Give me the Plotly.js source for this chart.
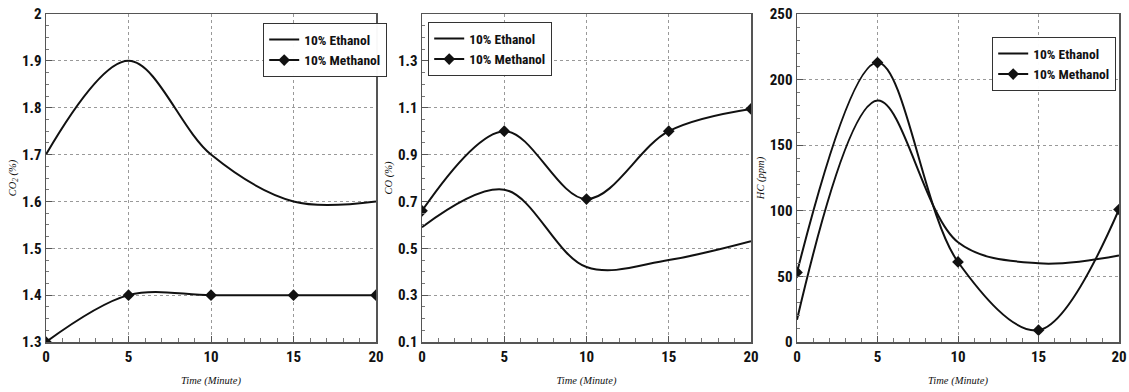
<!DOCTYPE html>
<html>
<head>
<meta charset="utf-8">
<script src="https://cdn.plot.ly/plotly-3.0.1.min.js"></script>
<style>html,body{margin:0;padding:0;background:#fff;}#chart{width:1129px;height:392px;}</style>
</head>
<body>
<div id="chart"></div>
<script>
const time = [0, 5, 10, 15, 20];
const co2Ethanol = [1.7, 1.9, 1.7, 1.6, 1.6];
const co2Methanol = [1.3, 1.4, 1.4, 1.4, 1.4];
const coEthanol = [0.59, 0.75, 0.42, 0.45, 0.53];
const coMethanol = [0.66, 1.0, 0.71, 1.0, 1.095];
const hcEthanol = [17, 184, 76, 60, 66];
const hcMethanol = [53, 213, 61, 9, 101];
const seriesNames = ['10% Ethanol', '10% Methanol'];
const xTickVals = [0, 5, 10, 15, 20];
const coTickVals = [0.1, 0.3, 0.5, 0.7, 0.9, 1.1, 1.3];
const xTitle = 'Time (Minute)';
const yTitles = ['CO<sub>2</sub> (%)', 'CO (%)', 'HC (ppm)'];

const narrow = 'Liberation Sans Narrow, Arial Narrow, Roboto Condensed, Roboto, sans-serif';
const tickFont = {family: narrow, size: 15, color: '#111', weight: 'bold'};
const titleFont = {family: 'Liberation Serif, serif', size: 10.5, color: '#111', style: 'italic'};

function ethTrace(y, i, legendName) {
  return {x: time, y: y, xaxis: 'x' + (i ? i + 1 : ''), yaxis: 'y' + (i ? i + 1 : ''),
    name: seriesNames[0], mode: 'lines', legend: legendName,
    line: {color: '#111', width: 2, shape: 'spline', smoothing: 1}};
}
function metTrace(y, i, legendName) {
  return {x: time, y: y, xaxis: 'x' + (i ? i + 1 : ''), yaxis: 'y' + (i ? i + 1 : ''),
    name: seriesNames[1], mode: 'lines+markers', legend: legendName,
    line: {color: '#111', width: 2, shape: 'spline', smoothing: 1},
    marker: {symbol: 'diamond', size: 9, color: '#111'}};
}

const data = [
  ethTrace(co2Ethanol, 0, 'legend'), metTrace(co2Methanol, 0, 'legend'),
  ethTrace(coEthanol, 1, 'legend2'), metTrace(coMethanol, 1, 'legend2'),
  ethTrace(hcEthanol, 2, 'legend3'), metTrace(hcMethanol, 2, 'legend3')
];

const yDom = [50 / 392, 378 / 392];
function xAxis(dom, anchor) {
  return {domain: dom, anchor: anchor, range: [0, 20], tickvals: xTickVals, tickfont: tickFont,
    ticklabeloverflow: 'allow',
    showline: true, mirror: true, linecolor: '#555', linewidth: 1.5,
    ticks: 'inside', ticklen: 6, tickcolor: '#555',
    minor: {dtick: 1, ticks: 'inside', ticklen: 4, tickcolor: '#777', showgrid: false},
    showgrid: true, gridcolor: '#999', griddash: 'dot', gridwidth: 1, zeroline: false,
    title: {text: xTitle, font: titleFont, standoff: 12}};
}
function yAxis(anchor, range, dtick, minorDtick, title) {
  return {domain: yDom, anchor: anchor, range: range, dtick: dtick, tick0: range[0], tickfont: tickFont,
    ticklabeloverflow: 'allow',
    showline: true, mirror: true, linecolor: '#555', linewidth: 1.5,
    ticks: 'inside', ticklen: 6, tickcolor: '#555',
    minor: {dtick: minorDtick, ticks: 'inside', ticklen: 3, tickcolor: '#777', showgrid: false},
    showgrid: true, gridcolor: '#999', griddash: 'dot', gridwidth: 1, zeroline: false,
    title: {text: title, font: titleFont, standoff: 3}};
}

const legendBase = {bgcolor: 'rgba(255,255,255,0.97)', bordercolor: '#333', borderwidth: 1.2,
  font: {family: narrow, size: 13.5, color: '#111', weight: 'bold'},
  xanchor: 'left', yanchor: 'top', itemwidth: 30, tracegroupgap: 0};

const layout = {
  width: 1129, height: 392,
  margin: {l: 0, r: 0, t: 0, b: 0},
  paper_bgcolor: '#fff', plot_bgcolor: '#fff',
  xaxis: xAxis([46 / 1129, 376 / 1129], 'y'),
  yaxis: yAxis('x', [1.3, 2.0], 0.1, 0.025, yTitles[0]),
  xaxis2: xAxis([422 / 1129, 751 / 1129], 'y2'),
  yaxis2: Object.assign(yAxis('x2', [0.1, 1.5], 0.2, 0.05, yTitles[1]), {tickvals: coTickVals, ticktext: coTickVals.map(v => v.toFixed(1))}),
  xaxis3: xAxis([797 / 1129, 1119 / 1129], 'y3'),
  yaxis3: yAxis('x3', [0, 250], 50, 10, yTitles[2]),
  legend: Object.assign({}, legendBase, {x: 263 / 1129, y: (392 - 23) / 392}),
  legend2: Object.assign({}, legendBase, {x: 428 / 1129, y: (392 - 22) / 392}),
  legend3: Object.assign({}, legendBase, {x: 992 / 1129, y: (392 - 37) / 392}),
  showlegend: true
};

Plotly.newPlot('chart', data, layout, {displayModeBar: false, staticPlot: true});
</script>
</body>
</html>
